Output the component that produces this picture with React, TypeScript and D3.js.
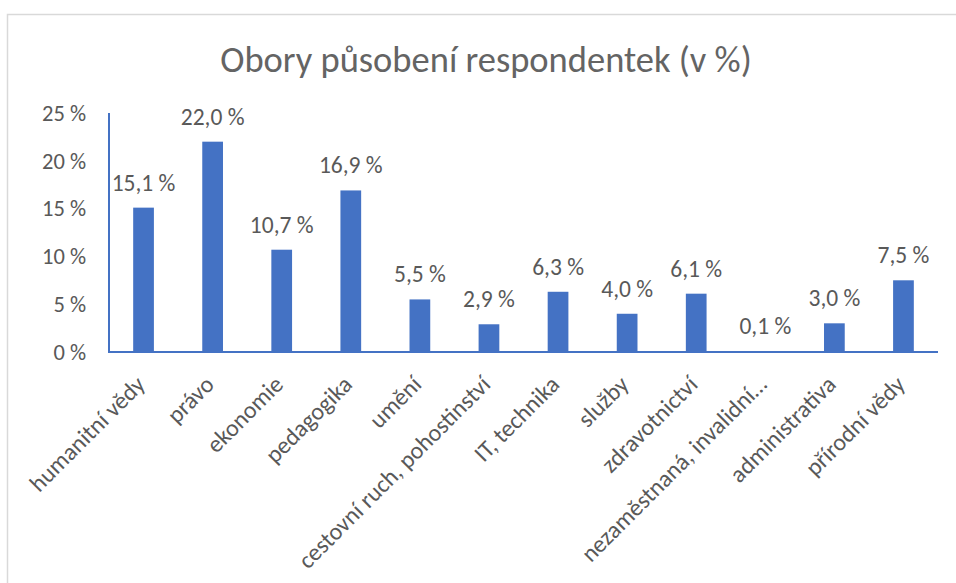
import React, { useEffect } from 'react';
import * as d3 from 'd3';

const categories = [
  'humanitní vědy',
  'právo',
  'ekonomie',
  'pedagogika',
  'umění',
  'cestovní ruch, pohostinství',
  'IT, technika',
  'služby',
  'zdravotnictví',
  'nezaměstnaná, invalidní…',
  'administrativa',
  'přírodní vědy',
];
const values = [15.1, 22.0, 10.7, 16.9, 5.5, 2.9, 6.3, 4.0, 6.1, 0.1, 3.0, 7.5];
const yTicks = [0, 5, 10, 15, 20, 25];
const title = 'Obory působení respondentek (v %)';

const W = 956;
const H = 583;
const FONT = 'Calibri, Carlito, Lato, sans-serif';
const TEXT = '#595959';
const BLUE = '#4472C4';

const fmt = (v: number) => v.toFixed(1).replace('.', ',') + ' %';

export default function App() {
  useEffect(() => {
    document.body.style.margin = '0';
  }, []);

  const x = d3
    .scaleBand<string>()
    .domain(categories)
    .range([109, 938])
    .paddingInner(0.7)
    .paddingOuter(0.35);
  const y = d3.scaleLinear().domain([0, 25]).range([352, 113]);

  return (
    <svg width={W} height={H} style={{ display: 'block' }} fontFamily={FONT}>
      <rect x={0} y={0} width={W} height={H} fill="#fff" />
      <rect x={7.5} y={14.5} width={W + 20} height={H + 20} fill="none" stroke="#d9d9d9" strokeWidth={1.5} />
      <text x={486} y={72} textAnchor="middle" fontSize={36.5} fontWeight={300} fill="#646464">
        {title}
      </text>
      {yTicks.map((t) => (
        <text key={t} x={86} y={y(t)} dy="0.35em" textAnchor="end" fontSize={22.5} fill={TEXT}>
          {t + ' %'}
        </text>
      ))}
      {categories.map((c, i) => (
        <rect key={c} x={x(c)} y={y(values[i])} width={x.bandwidth()} height={y(0) - y(values[i])} fill={BLUE} />
      ))}
      {categories.map((c, i) => (
        <text
          key={'l' + c}
          x={(x(c) as number) + x.bandwidth() / 2}
          y={y(values[i]) - 17}
          textAnchor="middle"
          fontSize={23.5}
          fill={TEXT}
        >
          {fmt(values[i])}
        </text>
      ))}
      <line x1={109} x2={109} y1={y(25)} y2={y(0)} stroke={BLUE} strokeWidth={2} />
      <line x1={108} x2={938} y1={y(0)} y2={y(0)} stroke={BLUE} strokeWidth={2} />
      {categories.map((c) => {
        const cx = (x(c) as number) + x.bandwidth() / 2;
        return (
          <text
            key={'c' + c}
            transform={`translate(${cx - 3},${380}) rotate(-45)`}
            textAnchor="end"
            dy="0.35em"
            fontSize={24}
            fill={TEXT}
          >
            {c}
          </text>
        );
      })}
    </svg>
  );
}
